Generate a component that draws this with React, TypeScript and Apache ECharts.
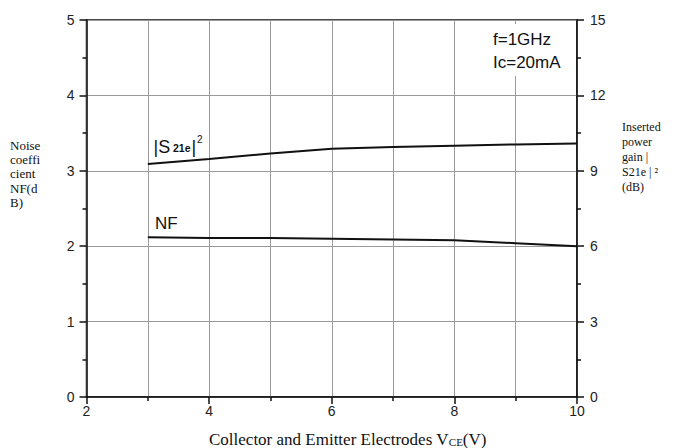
import React, { useEffect, useRef } from "react";
import * as echarts from "echarts";

const vce = [3, 4, 5, 6, 7, 8, 9, 10];
const nfValues = [2.12, 2.11, 2.11, 2.1, 2.09, 2.08, 2.04, 2.0];
const s21Values = [9.27, 9.47, 9.69, 9.88, 9.95, 10.0, 10.05, 10.09];
const leftTicks = [0, 1, 2, 3, 4, 5];
const rightTicks = [0, 3, 6, 9, 12, 15];

const SANS = "Arial, 'Liberation Sans', sans-serif";
const SERIF = "'Times New Roman', 'Liberation Serif', serif";

function measure(text: string, font: string): number {
  const c = document.createElement("canvas").getContext("2d");
  if (!c) return text.length * 7;
  c.font = font;
  return c.measureText(text).width;
}

export default function App() {
  const ref = useRef<HTMLDivElement>(null);
  useEffect(() => {
    if (!ref.current) return;
    const chart = echarts.init(ref.current, null, { renderer: "svg" });
    const gridColor = "#9a9a9a";
    const labelStyle = { color: "#222", fontSize: 14, fontFamily: SANS };
    const nameMain = "Collector and Emitter Electrodes V";
    const nameFont = `17px ${SERIF}`;
    const subFont = `11px ${SERIF}`;
    const mainW = measure(nameMain, nameFont);
    const subW = measure("CE", subFont);
    const nameX = 209;
    const nameY = 439;
    chart.setOption({
      animation: false,
      backgroundColor: "#fff",
      grid: {
        left: 86.5,
        right: 96,
        top: 20,
        bottom: 51,
        show: true,
        borderColor: "#111",
        borderWidth: 1.5,
        backgroundColor: "transparent",
      },
      xAxis: {
        type: "value",
        min: 2,
        max: 10,
        interval: 2,
        axisLine: { lineStyle: { color: "#111", width: 1.5 } },
        axisTick: { show: true, inside: false, length: 7, lineStyle: { color: "#111", width: 1.5 } },
        minorTick: { show: true, splitNumber: 2, length: 4, lineStyle: { color: "#111", width: 1.5 } },
        splitLine: { show: true, lineStyle: { color: gridColor, width: 1 } },
        minorSplitLine: { show: true, lineStyle: { color: gridColor, width: 1 } },
        axisLabel: { ...labelStyle, margin: 7 },
      },
      yAxis: [
        {
          type: "value",
          min: leftTicks[0],
          max: leftTicks[leftTicks.length - 1],
          interval: 1,
          position: "left",
          axisLine: { show: true, lineStyle: { color: "#111", width: 1.5 } },
          axisTick: { show: true, inside: false, length: 7, lineStyle: { color: "#111", width: 1.5 } },
          minorTick: { show: true, splitNumber: 2, length: 4, lineStyle: { color: "#111", width: 1.5 } },
          splitLine: { show: true, lineStyle: { color: gridColor, width: 1 } },
          axisLabel: { ...labelStyle, margin: 12 },
        },
        {
          type: "value",
          min: rightTicks[0],
          max: rightTicks[rightTicks.length - 1],
          interval: 3,
          position: "right",
          axisLine: { show: true, lineStyle: { color: "#111", width: 1.5 } },
          axisTick: { show: true, inside: false, length: 7, lineStyle: { color: "#111", width: 1.5 } },
          minorTick: { show: true, splitNumber: 2, length: 4, lineStyle: { color: "#111", width: 1.5 } },
          splitLine: { show: false },
          axisLabel: { ...labelStyle, margin: 13 },
        },
      ],
      series: [
        {
          name: "NF",
          type: "line",
          yAxisIndex: 0,
          data: vce.map((x, i) => [x, nfValues[i]]),
          showSymbol: false,
          symbol: "none",
          lineStyle: { color: "#111", width: 2 },
        },
        {
          name: "S21e",
          type: "line",
          yAxisIndex: 1,
          data: vce.map((x, i) => [x, s21Values[i]]),
          showSymbol: false,
          symbol: "none",
          lineStyle: { color: "#111", width: 2 },
        },
      ],
      graphic: [
        { type: "rect", shape: { x: 488, y: 24, width: 80, height: 52 }, style: { fill: "#fff" }, z: 10 },
        { type: "text", x: 493, y: 39.5, z: 11, style: { text: "f=1GHz", font: `17px ${SANS}`, fill: "#111", textVerticalAlign: "middle" } },
        { type: "text", x: 493, y: 62, z: 11, style: { text: "Ic=20mA", font: `17px ${SANS}`, fill: "#111", textVerticalAlign: "middle" } },
        { type: "text", x: 155, y: 223, z: 11, style: { text: "NF", font: `17px ${SANS}`, fill: "#111", textVerticalAlign: "middle" } },
        { type: "text", x: 153.5, y: 146.5, z: 11, style: { text: "|S", font: `18px ${SANS}`, fill: "#111", textVerticalAlign: "middle" } },
        { type: "text", x: 173, y: 147.5, z: 11, style: { text: "21e", font: `bold 10.5px ${SANS}`, fill: "#111", textVerticalAlign: "middle" } },
        { type: "text", x: 191.5, y: 146.5, z: 11, style: { text: "|", font: `18px ${SANS}`, fill: "#111", textVerticalAlign: "middle" } },
        { type: "text", x: 197, y: 139.5, z: 11, style: { text: "2", font: `10px ${SANS}`, fill: "#111", textVerticalAlign: "middle" } },
        {
          type: "text", x: 10, y: 138, z: 11,
          style: { text: "Noise\ncoeffi\ncient\nNF(d\nB)", font: `13px ${SERIF}`, lineHeight: 14.3, fill: "#111" },
        },
        {
          type: "text", x: 622, y: 119, z: 11,
          style: { text: "Inserted\npower\ngain |\nS21e | \u00b2\n(dB)", font: `12px ${SERIF}`, lineHeight: 15, fill: "#111" },
        },
        {
          type: "text", x: nameX, y: nameY, z: 11,
          style: { text: nameMain, font: nameFont, fill: "#111", textVerticalAlign: "middle" },
        },
        {
          type: "text", x: nameX + mainW, y: nameY + 3, z: 11,
          style: { text: "CE", font: subFont, fill: "#111", textVerticalAlign: "middle" },
        },
        {
          type: "text", x: nameX + mainW + subW, y: nameY, z: 11,
          style: { text: "(V)", font: nameFont, fill: "#111", textVerticalAlign: "middle" },
        },
      ],
    });
    return () => chart.dispose();
  }, []);
  return (
    <div
      ref={ref}
      style={{ position: "fixed", left: 0, top: 0, width: 673, height: 448, background: "#fff" }}
    />
  );
}
